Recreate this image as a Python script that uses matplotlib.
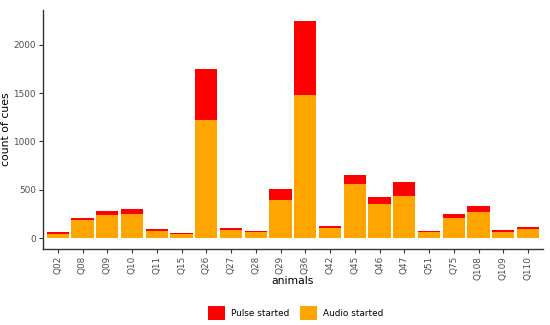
import numpy as np
import matplotlib.pyplot as plt
from matplotlib.patches import Patch

# animals and cue counts
animals = ['Q02', 'Q08', 'Q09', 'Q10', 'Q11', 'Q15', 'Q26', 'Q27', 'Q28', 'Q29',
           'Q36', 'Q42', 'Q45', 'Q46', 'Q47', 'Q51', 'Q75', 'Q108', 'Q109', 'Q110']
audio_started = [45, 182, 237, 251, 76, 44, 1220, 86, 62, 392,
                 1478, 106, 564, 351, 436, 59, 203, 271, 65, 96]
pulse_started = [14, 27, 41, 48, 17, 8, 533, 17, 10, 120,
                 770, 21, 86, 75, 148, 13, 51, 59, 17, 17]

fig = plt.figure(figsize=(5.5, 3.25), dpi=100)
ax = fig.add_axes([0.078, 0.234, 0.909, 0.735])

x = np.arange(1, len(animals) + 1)
ax.bar(x, audio_started, width=0.9, color='#FFA500', linewidth=0)
ax.bar(x, pulse_started, width=0.9, bottom=audio_started, color='#FF0000', linewidth=0)

ax.set_xlim(0.4, len(animals) + 0.6)
ax.set_ylim(-113, 2360)
ax.set_xticks(x)
ax.set_xticklabels(animals, rotation=90, fontsize=6.4, color='#4D4D4D')
ax.set_yticks([0, 500, 1000, 1500, 2000])
ax.set_yticklabels(['0', '500', '1000', '1500', '2000'], fontsize=6.4, color='#4D4D4D')
ax.tick_params(length=3, width=0.8, color='#333333', pad=2)

for side in ['top', 'right']:
    ax.spines[side].set_visible(False)
for side in ['left', 'bottom']:
    ax.spines[side].set_color('#333333')
    ax.spines[side].set_linewidth(1.0)

ax.set_xlabel('animals', fontsize=7.8)
ax.xaxis.set_label_coords(0.5, -0.113)
ax.set_ylabel('count of cues', fontsize=7.8)
ax.yaxis.set_label_coords(-0.064, 0.5)

handles = [Patch(facecolor='#FF0000', label='Pulse started'),
           Patch(facecolor='#FFA500', label='Audio started')]
fig.legend(handles=handles, loc='center', bbox_to_anchor=(0.537, 0.037), ncol=2,
           frameon=False, fontsize=6.4, handlelength=2.0, handleheight=2.0,
           columnspacing=1.2, handletextpad=0.6)

plt.savefig('out.png', dpi=100)
